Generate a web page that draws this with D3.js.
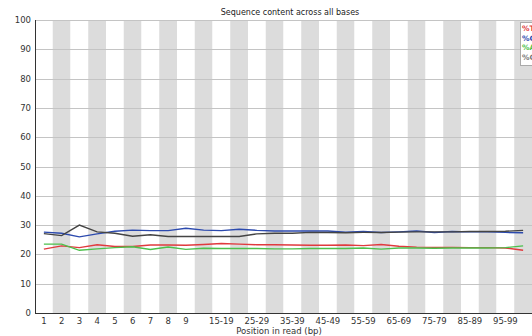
<!DOCTYPE html>
<html><head><meta charset="utf-8">
<script src="https://cdn.jsdelivr.net/npm/d3@7"></script>
<style>html,body{margin:0;padding:0;background:#fff;overflow:hidden}</style>
</head><body>
<svg id="c" width="532" height="336"></svg>
<script>
const categories = ["1","2","3","4","5","6","7","8","9","10-14","15-19","20-24","25-29","30-34","35-39","40-44","45-49","50-54","55-59","60-64","65-69","70-74","75-79","80-84","85-89","90-94","95-99","100-101"];
const pctT = [21.8,22.9,22.3,23.3,22.7,22.7,23.2,23.2,23.1,23.4,23.7,23.5,23.3,23.3,23.2,23.1,23.1,23.2,23.0,23.4,22.8,22.5,22.4,22.4,22.3,22.3,22.2,21.4];
const pctC = [27.6,27.2,26.0,27.0,27.9,28.3,28.1,28.1,28.9,28.3,28.1,28.6,28.2,28.0,28.0,28.0,28.0,27.6,27.8,27.5,27.7,28.0,27.5,27.8,27.7,27.7,27.5,27.4];
const pctA = [23.5,23.5,21.4,21.9,22.3,22.6,21.7,22.5,21.7,22.1,22.0,22.0,22.0,21.9,21.9,22.0,22.0,22.0,22.2,21.8,22.2,22.2,22.1,22.2,22.2,22.2,22.3,22.9];
const pctG = [27.1,26.4,30.0,27.7,27.2,26.2,26.7,26.1,26.1,26.1,26.1,26.1,27.0,27.2,27.2,27.5,27.5,27.4,27.5,27.5,27.6,27.7,27.7,27.7,27.8,27.8,27.9,28.2];
const yTicks = [0,10,20,30,40,50,60,70,80,90,100];
const seriesNames = ["%T","%C","%A","%G"];
const seriesColors = ["#e03a3e","#2c4aae","#4cc04c","#444444"];
const seriesData = [pctT,pctC,pctA,pctG];
const xLabelShown = ["1","2","3","4","5","6","7","8","9","15-19","25-29","35-39","45-49","55-59","65-69","75-79","85-89","95-99"];

const svg = d3.select("#c");
const font = "DejaVu Sans, Verdana, sans-serif";
const pL = 35, pR = 532, pT = 20, pB = 313;
const x = d3.scaleBand().domain(categories).range([pL, pL + 17.75*categories.length]).padding(0);
const y = d3.scaleLinear().domain([0,100]).range([pB, pT]);

// alternating bands
svg.append("g").selectAll("rect").data(categories).join("rect")
  .attr("x", d => x(d)).attr("y", pT).attr("width", x.bandwidth()).attr("height", pB - pT)
  .attr("fill", (d,i) => i % 2 ? "#dcdcdc" : "#ffffff");

// gridlines
svg.append("g").selectAll("line").data(yTicks.filter(t => t > 0)).join("line")
  .attr("x1", pL).attr("x2", pR)
  .attr("y1", d => Math.round(y(d)) + 0.5).attr("y2", d => Math.round(y(d)) + 0.5)
  .attr("stroke", "#c4c4c4").attr("stroke-width", 1);

// axes lines
svg.append("line").attr("x1", pL+0.5).attr("x2", pL+0.5).attr("y1", pT).attr("y2", pB+0.5).attr("stroke", "#333").attr("stroke-width", 1);
svg.append("line").attr("x1", pL).attr("x2", pR).attr("y1", pB+0.5).attr("y2", pB+0.5).attr("stroke", "#333").attr("stroke-width", 1);

// y labels
svg.append("g").selectAll("text").data(yTicks).join("text")
  .attr("x", 31).attr("y", d => y(d) + 3)
  .attr("text-anchor", "end").attr("font-family", font).attr("font-size", 8.5).attr("fill", "#333")
  .text(d => d);

// x labels
svg.append("g").selectAll("text").data(xLabelShown).join("text")
  .attr("x", d => x(d) + x.bandwidth()/2).attr("y", 324)
  .attr("text-anchor", "middle").attr("font-family", font).attr("font-size", 8.5).attr("fill", "#333")
  .text(d => d);

// lines
const line = d3.line().x((d,i) => x(categories[i]) + x.bandwidth()/2).y(d => y(d));
svg.append("g").selectAll("path").data(seriesData).join("path")
  .attr("d", d => line(d)).attr("fill", "none")
  .attr("stroke", (d,i) => seriesColors[i]).attr("stroke-width", 1.4);

// title
svg.append("text").attr("x", 290).attr("y", 15).attr("text-anchor", "middle")
  .attr("font-family", font).attr("font-size", 8).attr("fill", "#222").text("Sequence content across all bases");
// x axis title
svg.append("text").attr("x", 279).attr("y", 334).attr("text-anchor", "middle")
  .attr("font-family", font).attr("font-size", 8.5).attr("fill", "#333").text("Position in read (bp)");

// legend
const lg = svg.append("g");
lg.append("rect").attr("x", 520.5).attr("y", 22.5).attr("width", 30).attr("height", 43)
  .attr("fill", "#fff").attr("stroke", "#aaa");
lg.selectAll("text").data(seriesNames).join("text")
  .attr("x", 522).attr("y", (d,i) => 31 + i*9.6)
  .attr("font-family", font).attr("font-size", 7.5).attr("font-weight", "bold")
  .attr("fill", (d,i) => i === 3 ? "#777" : seriesColors[i]).text(d => d);
</script>
</body></html>
